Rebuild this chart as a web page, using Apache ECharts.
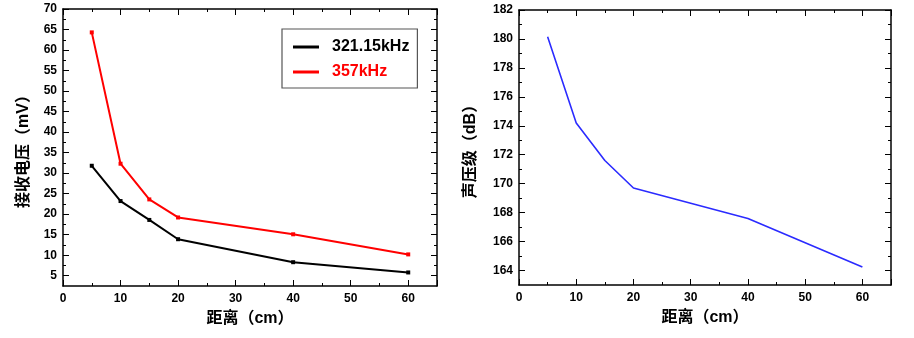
<!DOCTYPE html>
<html><head><meta charset="utf-8">
<script src="https://cdn.jsdelivr.net/npm/echarts@6/dist/echarts.min.js"></script>
<style>html,body{margin:0;padding:0;background:#fff}#c{width:914px;height:338px}</style>
</head><body><div id="c"></div>
<script>
const distance = [5, 10, 15, 20, 40, 60];
const v321 = [31.8, 23.2, 18.6, 13.9, 8.3, 5.8];
const v357 = [64.3, 32.3, 23.6, 19.2, 15.1, 10.2];
const spl = [180.15, 174.2, 171.6, 169.7, 167.6, 164.25];
const xTicks = [0, 10, 20, 30, 40, 50, 60];
const leftYTicks = [5,10,15,20,25,30,35,40,45,50,55,60,65,70];
const leftYMinor = [7.5,12.5,17.5,22.5,27.5,32.5,37.5,42.5,47.5,52.5,57.5,62.5,67.5];
const rightYTicks = [164,166,168,170,172,174,176,178,180,182];
const rightYMinor = [165,167,169,171,173,175,177,179,181];
const seriesNames = ['321.15kHz', '357kHz'];

const FONT = "'Liberation Sans', 'Noto Sans CJK SC', sans-serif";
const lab = {color:'#000', fontWeight:'bold', fontSize:12, fontFamily:FONT};
const nameStyle = {color:'#000', fontWeight:'bold', fontSize:16, fontFamily:FONT};
const lineSt = {color:'#000', width:1.5};

function xAxes(g){
  const base = {type:'value', gridIndex:g, min:0, max:65, interval:10,
    splitLine:{show:false},
    axisLine:{show:true, onZero:false, lineStyle:lineSt},
    axisTick:{show:true, inside:true, length:6, lineStyle:{color:'#000', width:1}},
    minorTick:{show:true, splitNumber:2, length:3, lineStyle:{color:'#000', width:1}}};
  return [
    Object.assign({}, base, {position:'bottom', axisLabel:Object.assign({margin:7, customValues:xTicks}, lab),
      name:'距离（cm）', nameLocation:'middle', nameGap:25, nameTextStyle:nameStyle}),
    Object.assign({}, base, {position:'top', axisLabel:{show:false}})
  ];
}
function yAxes(g, min, max, majors, minors, name, gap){
  const base = {type:'value', gridIndex:g, min:min, max:max, splitLine:{show:false}};
  const mk = (pos, vals, len, labels, line) => Object.assign({}, base, {
    position:pos,
    axisLine:{show:line, onZero:false, lineStyle:lineSt},
    axisTick:{show:true, inside:true, length:len, customValues:vals, lineStyle:{color:'#000', width:1}},
    axisLabel: labels ? Object.assign({margin:6, customValues:majors}, lab) : {show:false}
  });
  const a = mk('left', majors, 6, true, true);
  a.name = name; a.nameLocation = 'middle'; a.nameGap = gap; a.nameTextStyle = nameStyle;
  return [a, mk('left', minors, 3, false, false), mk('right', majors, 6, false, true), mk('right', minors, 3, false, false)];
}

const chart = echarts.init(document.getElementById('c'), null, {renderer:'canvas'});
chart.setOption({
  backgroundColor:'#fff',
  animation:false,
  grid:[
    {left:63, top:9, width:374, height:277},
    {left:519, top:10, width:372, height:275}
  ],
  xAxis:[...xAxes(0), ...xAxes(1)],
  yAxis:[...yAxes(0, 2.5, 70, leftYTicks, leftYMinor, '接收电压（mV）', 31),
         ...yAxes(1, 163, 182, rightYTicks, rightYMinor, '声压级（dB）', 40)],
  legend:{
    left:282, top:29, orient:'vertical',
    backgroundColor:'#fff',
    borderColor:'#555', borderWidth:1.2, borderRadius:0,
    padding:[10, 8, 8, 11], itemGap:9,
    itemWidth:26, itemHeight:3, icon:'rect',
    textStyle:{fontWeight:'bold', fontSize:16, fontFamily:FONT, padding:[0,0,0,8], lineHeight:16},
    data:[
      {name:seriesNames[0], textStyle:{color:'#000'}},
      {name:seriesNames[1], textStyle:{color:'#ff0000'}}
    ]
  },
  series:[
    {name:seriesNames[0], type:'line', xAxisIndex:0, yAxisIndex:0,
     data:distance.map((d,i)=>[d, v321[i]]),
     lineStyle:{color:'#000', width:2}, itemStyle:{color:'#000'},
     symbol:'rect', symbolSize:4, showSymbol:true},
    {name:seriesNames[1], type:'line', xAxisIndex:0, yAxisIndex:0,
     data:distance.map((d,i)=>[d, v357[i]]),
     lineStyle:{color:'#ff0000', width:2}, itemStyle:{color:'#ff0000'},
     symbol:'rect', symbolSize:4, showSymbol:true},
    {name:'SPL', type:'line', xAxisIndex:2, yAxisIndex:4,
     data:distance.map((d,i)=>[d, spl[i]]),
     lineStyle:{color:'#2b2bff', width:1.6}, itemStyle:{color:'#2b2bff'},
     symbol:'none'}
  ]
});
</script></body></html>
